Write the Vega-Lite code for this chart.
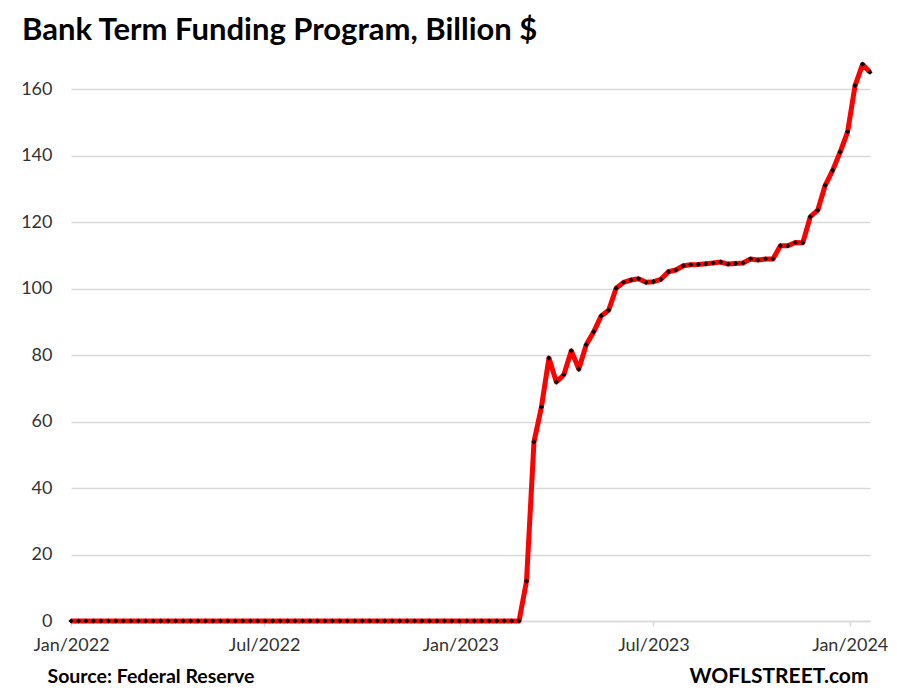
{
  "$schema": "https://vega.github.io/schema/vega-lite/v6.json",
  "width": 799,
  "height": 565,
  "autosize": {"type": "none"},
  "padding": {"left": 71, "top": 56, "right": 27, "bottom": 75},
  "background": "white",
  "config": {"view": {"stroke": null}, "font": "Lato"},
  "title": {
    "text": "Bank Term Funding Program, Billion $",
    "anchor": "start",
    "frame": "group",
    "font": "Lato",
    "fontSize": 31,
    "fontWeight": "bold",
    "color": "#000000",
    "baseline": "alphabetic",
    "offset": 14,
    "dx": -49,
    "dy": 29
  },
  "data": {
    "values": [
      {"date": "2022-01-12", "value": 0}, {"date": "2022-01-19", "value": 0}, {"date": "2022-01-26", "value": 0},
      {"date": "2022-02-02", "value": 0}, {"date": "2022-02-09", "value": 0}, {"date": "2022-02-16", "value": 0}, {"date": "2022-02-23", "value": 0},
      {"date": "2022-03-02", "value": 0}, {"date": "2022-03-09", "value": 0}, {"date": "2022-03-16", "value": 0}, {"date": "2022-03-23", "value": 0}, {"date": "2022-03-30", "value": 0},
      {"date": "2022-04-06", "value": 0}, {"date": "2022-04-13", "value": 0}, {"date": "2022-04-20", "value": 0}, {"date": "2022-04-27", "value": 0},
      {"date": "2022-05-04", "value": 0}, {"date": "2022-05-11", "value": 0}, {"date": "2022-05-18", "value": 0}, {"date": "2022-05-25", "value": 0},
      {"date": "2022-06-01", "value": 0}, {"date": "2022-06-08", "value": 0}, {"date": "2022-06-15", "value": 0}, {"date": "2022-06-22", "value": 0}, {"date": "2022-06-29", "value": 0},
      {"date": "2022-07-06", "value": 0}, {"date": "2022-07-13", "value": 0}, {"date": "2022-07-20", "value": 0}, {"date": "2022-07-27", "value": 0},
      {"date": "2022-08-03", "value": 0}, {"date": "2022-08-10", "value": 0}, {"date": "2022-08-17", "value": 0}, {"date": "2022-08-24", "value": 0}, {"date": "2022-08-31", "value": 0},
      {"date": "2022-09-07", "value": 0}, {"date": "2022-09-14", "value": 0}, {"date": "2022-09-21", "value": 0}, {"date": "2022-09-28", "value": 0},
      {"date": "2022-10-05", "value": 0}, {"date": "2022-10-12", "value": 0}, {"date": "2022-10-19", "value": 0}, {"date": "2022-10-26", "value": 0},
      {"date": "2022-11-02", "value": 0}, {"date": "2022-11-09", "value": 0}, {"date": "2022-11-16", "value": 0}, {"date": "2022-11-23", "value": 0}, {"date": "2022-11-30", "value": 0},
      {"date": "2022-12-07", "value": 0}, {"date": "2022-12-14", "value": 0}, {"date": "2022-12-21", "value": 0}, {"date": "2022-12-28", "value": 0},
      {"date": "2023-01-04", "value": 0}, {"date": "2023-01-11", "value": 0}, {"date": "2023-01-18", "value": 0}, {"date": "2023-01-25", "value": 0},
      {"date": "2023-02-01", "value": 0}, {"date": "2023-02-08", "value": 0}, {"date": "2023-02-15", "value": 0}, {"date": "2023-02-22", "value": 0},
      {"date": "2023-03-01", "value": 0}, {"date": "2023-03-08", "value": 0},
      {"date": "2023-03-15", "value": 12.0}, {"date": "2023-03-22", "value": 53.9}, {"date": "2023-03-29", "value": 64.4},
      {"date": "2023-04-05", "value": 79.1}, {"date": "2023-04-12", "value": 71.9}, {"date": "2023-04-19", "value": 74.1}, {"date": "2023-04-26", "value": 81.3},
      {"date": "2023-05-03", "value": 75.8}, {"date": "2023-05-10", "value": 83.1}, {"date": "2023-05-17", "value": 87.0}, {"date": "2023-05-24", "value": 91.8}, {"date": "2023-05-31", "value": 93.5},
      {"date": "2023-06-07", "value": 100.1}, {"date": "2023-06-14", "value": 101.9}, {"date": "2023-06-21", "value": 102.6}, {"date": "2023-06-28", "value": 103.0},
      {"date": "2023-07-05", "value": 101.9}, {"date": "2023-07-12", "value": 102.1}, {"date": "2023-07-19", "value": 102.8}, {"date": "2023-07-26", "value": 105.1},
      {"date": "2023-08-02", "value": 105.6}, {"date": "2023-08-09", "value": 106.9}, {"date": "2023-08-16", "value": 107.2}, {"date": "2023-08-23", "value": 107.3}, {"date": "2023-08-30", "value": 107.5},
      {"date": "2023-09-06", "value": 107.7}, {"date": "2023-09-13", "value": 108.0}, {"date": "2023-09-20", "value": 107.4}, {"date": "2023-09-27", "value": 107.6},
      {"date": "2023-10-04", "value": 107.7}, {"date": "2023-10-11", "value": 108.9}, {"date": "2023-10-18", "value": 108.6}, {"date": "2023-10-25", "value": 108.9},
      {"date": "2023-11-01", "value": 108.9}, {"date": "2023-11-08", "value": 112.9}, {"date": "2023-11-15", "value": 112.9}, {"date": "2023-11-22", "value": 113.9}, {"date": "2023-11-29", "value": 113.8},
      {"date": "2023-12-06", "value": 121.6}, {"date": "2023-12-13", "value": 123.6}, {"date": "2023-12-20", "value": 131.1}, {"date": "2023-12-27", "value": 135.6},
      {"date": "2024-01-03", "value": 141.1}, {"date": "2024-01-10", "value": 147.2}, {"date": "2024-01-17", "value": 161.1}, {"date": "2024-01-24", "value": 167.5}, {"date": "2024-01-31", "value": 165.1}
    ]
  },
  "encoding": {
    "x": {
      "field": "date",
      "type": "temporal",
      "scale": {
        "type": "utc",
        "domain": [
          {"year": 2022, "month": 1, "date": 12, "utc": true},
          {"year": 2024, "month": 1, "date": 31, "utc": true}
        ]
      },
      "axis": {
        "title": "WOFLSTREET.com",
        "titleFont": "Lato",
        "titleFontSize": 21,
        "titleFontWeight": "bold",
        "titleColor": "#000000",
        "titleAlign": "right",
        "titleBaseline": "alphabetic",
        "titleX": 797,
        "titleY": 61,
        "values": [
          {"year": 2022, "month": 1, "date": 12, "utc": true},
          {"year": 2022, "month": 7, "date": 12, "utc": true},
          {"year": 2023, "month": 1, "date": 12, "utc": true},
          {"year": 2023, "month": 7, "date": 12, "utc": true},
          {"year": 2024, "month": 1, "date": 12, "utc": true}
        ],
        "labelExpr": "utcFormat(datum.value, '%b/%Y')",
        "labelFont": "Lato",
        "labelFontSize": 18,
        "labelColor": "#333333",
        "labelFlush": false,
        "labelOverlap": false,
        "labelPadding": 10,
        "grid": false,
        "domainColor": "#d9d9d9",
        "domainWidth": 1.5,
        "tickColor": "#d9d9d9",
        "tickWidth": 1.5,
        "tickSize": 5
      }
    },
    "y": {
      "field": "value",
      "type": "quantitative",
      "scale": {"domain": [0, 170], "nice": false},
      "axis": {
        "title": "Source: Federal Reserve",
        "titleFont": "Lato",
        "titleFontSize": 19.5,
        "titleFontWeight": "bold",
        "titleColor": "#000000",
        "titleAngle": 0,
        "titleAlign": "left",
        "titleBaseline": "alphabetic",
        "titleX": -24,
        "titleY": 626,
        "values": [0, 20, 40, 60, 80, 100, 120, 140, 160],
        "labelFont": "Lato",
        "labelFontSize": 18,
        "labelColor": "#333333",
        "labelPadding": 19,
        "ticks": false,
        "domain": false,
        "grid": true,
        "gridColor": "#d9d9d9",
        "gridWidth": 1.5
      }
    }
  },
  "layer": [
    {"mark": {"type": "line", "color": "#ff0000", "strokeWidth": 5, "strokeJoin": "round"}},
    {"mark": {"type": "point", "shape": "diamond", "filled": true, "color": "#000000", "size": 26, "opacity": 1}}
  ]
}
